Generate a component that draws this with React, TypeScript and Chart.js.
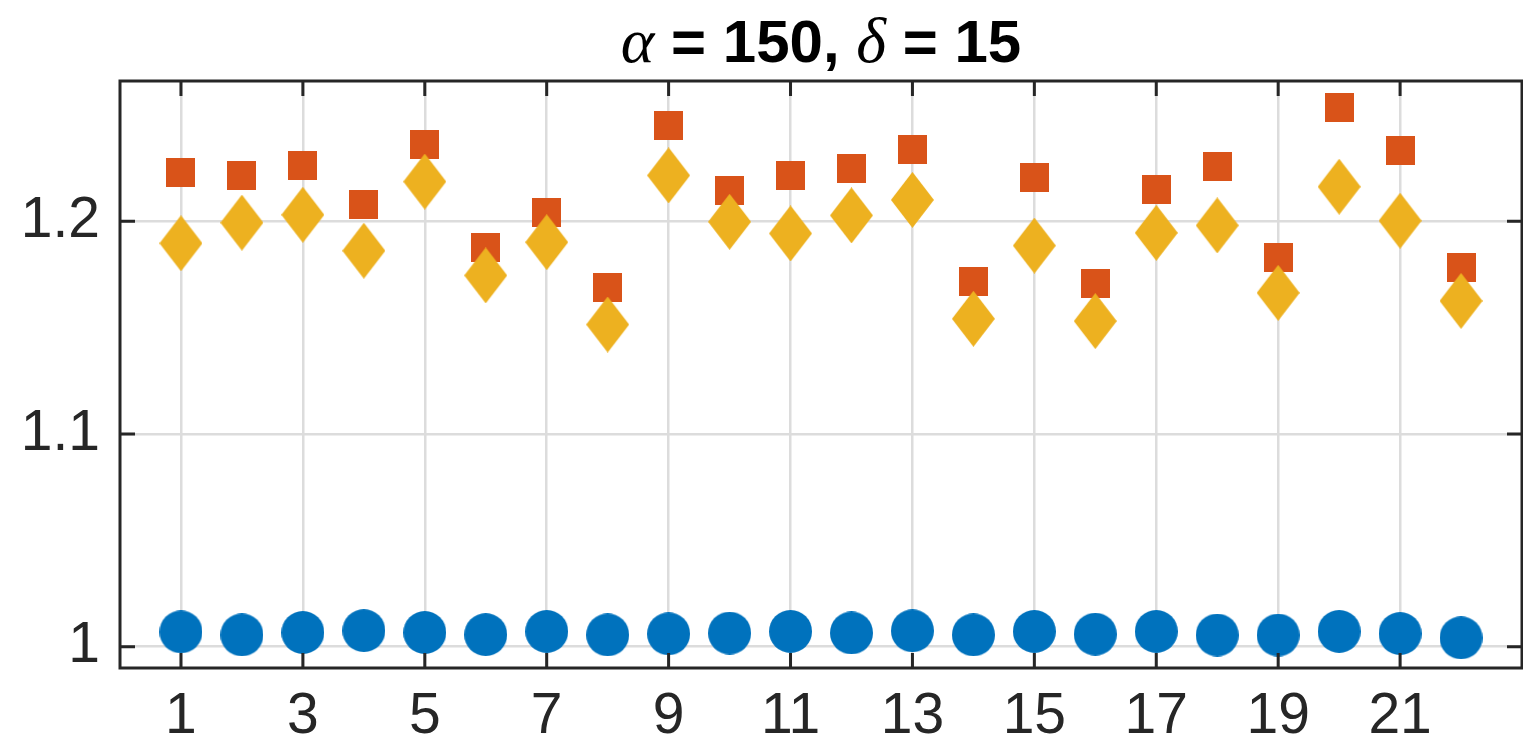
import React, { useEffect, useRef } from "react";
import { Chart, registerables } from "chart.js";

Chart.register(...registerables);

// ---- Data ----
const caseIndex = [1, 2, 3, 4, 5, 6, 7, 8, 9, 10, 11, 12, 13, 14, 15, 16, 17, 18, 19, 20, 21, 22];
const circleValues = [
  1.0070, 1.0056, 1.0067, 1.0076, 1.0067, 1.0057, 1.0072, 1.0056, 1.0061, 1.0064, 1.0072,
  1.0065, 1.0075, 1.0056, 1.0072, 1.0059, 1.0072, 1.0055, 1.0055, 1.0072, 1.0062, 1.0042,
];
const squareValues = [
  1.2228, 1.2214, 1.2265, 1.2077, 1.2360, 1.1875, 1.2044, 1.1687, 1.2449, 1.2143, 1.2218,
  1.2247, 1.2336, 1.1716, 1.2204, 1.1710, 1.2152, 1.2256, 1.1828, 1.2534, 1.2331, 1.1781,
];
const diamondValues = [
  1.1897, 1.1994, 1.2031, 1.1862, 1.2187, 1.1746, 1.1902, 1.1515, 1.2216, 1.1998, 1.1943,
  1.2028, 1.2101, 1.1542, 1.1886, 1.1531, 1.1946, 1.1981, 1.1664, 1.2163, 1.2003, 1.1626,
];
const xTickValues = [1, 3, 5, 7, 9, 11, 13, 15, 17, 19, 21];
const yTickValues = [1, 1.1, 1.2];
const titleParts = [
  { text: "α", math: true },
  { text: " = 150, ", math: false },
  { text: "δ", math: true },
  { text: " = 15", math: false },
];

const BLUE = "#0072BD";
const RED = "#D95319";
const YELLOW = "#EDB120";
const AXIS = "#262626";

function makeMarker(kind: string, w: number, h: number, color: string) {
  const c = document.createElement("canvas");
  c.width = w;
  c.height = h;
  const ctx = c.getContext("2d")!;
  ctx.fillStyle = color;
  ctx.beginPath();
  if (kind === "circle") {
    ctx.ellipse(w / 2, h / 2, w / 2, h / 2, 0, 0, Math.PI * 2);
  } else if (kind === "square") {
    ctx.rect(0, 0, w, h);
  } else {
    ctx.moveTo(w / 2, 0);
    ctx.lineTo(w, h / 2);
    ctx.lineTo(w / 2, h);
    ctx.lineTo(0, h / 2);
    ctx.closePath();
  }
  ctx.fill();
  return c;
}

const boxPlugin = {
  id: "boxPlugin",
  afterDatasetsDraw(chart: any) {
    const { ctx, chartArea } = chart;
    const { left, right, top, bottom } = chartArea;
    const xs = chart.scales.x;
    const ys = chart.scales.y;
    const tl = 15;
    ctx.save();
    ctx.strokeStyle = AXIS;
    ctx.lineWidth = 3;
    ctx.beginPath();
    ctx.rect(left, top, right - left, bottom - top);
    for (const v of xTickValues) {
      const px = xs.getPixelForValue(v);
      ctx.moveTo(px, bottom);
      ctx.lineTo(px, bottom - tl);
      ctx.moveTo(px, top);
      ctx.lineTo(px, top + tl);
    }
    for (const v of yTickValues) {
      const py = ys.getPixelForValue(v);
      ctx.moveTo(left, py);
      ctx.lineTo(left + tl, py);
      ctx.moveTo(right, py);
      ctx.lineTo(right - tl, py);
    }
    ctx.stroke();
    ctx.restore();
  },
  afterDraw(chart: any) {
    const { ctx, chartArea } = chart;
    const cx = (chartArea.left + chartArea.right) / 2;
    const baseline = 62;
    const mathFont = 'italic 64px "Liberation Serif", "DejaVu Serif", serif';
    const textFont = 'bold 60px "Liberation Sans", Arial, sans-serif';
    ctx.save();
    ctx.fillStyle = "#000000";
    ctx.textBaseline = "alphabetic";
    ctx.textAlign = "left";
    let total = 0;
    const widths = titleParts.map((p) => {
      ctx.font = p.math ? mathFont : textFont;
      const w = ctx.measureText(p.text).width;
      total += w;
      return w;
    });
    let x = cx - total / 2;
    titleParts.forEach((p, i) => {
      ctx.font = p.math ? mathFont : textFont;
      ctx.fillText(p.text, x, baseline);
      x += widths[i];
    });
    ctx.restore();
  },
};

export default function App() {
  const canvasRef = useRef<HTMLCanvasElement | null>(null);

  useEffect(() => {
    document.body.style.margin = "0";
    document.body.style.overflow = "hidden";
    const canvas = canvasRef.current;
    if (!canvas) return;
    const circle = makeMarker("circle", 43, 43, BLUE);
    const square = makeMarker("square", 29, 29, RED);
    const diamond = makeMarker("diamond", 43, 56, YELLOW);

    const toPoints = (vals: number[]) => caseIndex.map((x, i) => ({ x, y: vals[i] }));
    const labelFont = { family: '"Liberation Sans", Arial, sans-serif', size: 57 };

    const chart = new Chart(canvas, {
      type: "scatter",
      data: {
        datasets: [
          {
            label: "circles",
            data: toPoints(circleValues),
            pointStyle: circle as any,
            pointRadius: 20,
            backgroundColor: BLUE,
            borderWidth: 0,
            order: 2,
          },
          {
            label: "squares",
            data: toPoints(squareValues),
            pointStyle: square as any,
            pointRadius: 20,
            backgroundColor: RED,
            borderWidth: 0,
            order: 1,
          },
          {
            label: "diamonds",
            data: toPoints(diamondValues),
            pointStyle: diamond as any,
            pointRadius: 20,
            backgroundColor: YELLOW,
            borderWidth: 0,
            order: 0,
          },
        ],
      },
      options: {
        animation: false,
        responsive: false,
        devicePixelRatio: 1,
        layout: { autoPadding: false, padding: { top: 81, right: 1, left: 0, bottom: 0 } },
        plugins: {
          legend: { display: false },
          title: { display: false },
          tooltip: { enabled: false },
        },
        scales: {
          x: {
            type: "linear",
            position: "bottom",
            min: 0,
            max: 23,
            afterBuildTicks: (scale: any) => {
              scale.ticks = xTickValues.map((v) => ({ value: v }));
            },
            afterFit: (scale: any) => {
              scale.height = 76;
              scale.paddingLeft = 0;
              scale.paddingRight = 0;
            },
            ticks: {
              autoSkip: false,
              maxRotation: 0,
              minRotation: 0,
              padding: 15,
              color: AXIS,
              font: labelFont,
              callback: (v: any) => String(v),
            },
            grid: { color: "#dcdcdc", lineWidth: 2.5, drawTicks: false },
            border: { display: false },
          },
          y: {
            type: "linear",
            min: 0.99,
            max: 1.266,
            afterBuildTicks: (scale: any) => {
              scale.ticks = yTickValues.map((v) => ({ value: v }));
            },
            afterFit: (scale: any) => {
              scale.width = 120;
              scale.paddingTop = 0;
              scale.paddingBottom = 0;
            },
            ticks: {
              padding: 20,
              color: AXIS,
              font: labelFont,
              callback: (v: any) => (Number(v) === 1 ? "1" : Number(v).toFixed(1)),
            },
            grid: { color: "#dcdcdc", lineWidth: 2.5, drawTicks: false },
            border: { display: false },
          },
        },
      },
      plugins: [boxPlugin],
    });
    return () => chart.destroy();
  }, []);

  return (
    <div
      style={{
        position: "absolute",
        left: 0,
        top: 0,
        width: 1523,
        height: 744,
        background: "#fff",
        overflow: "hidden",
      }}
    >
      <canvas ref={canvasRef} width={1523} height={744} style={{ display: "block", width: 1523, height: 744 }} />
    </div>
  );
}
